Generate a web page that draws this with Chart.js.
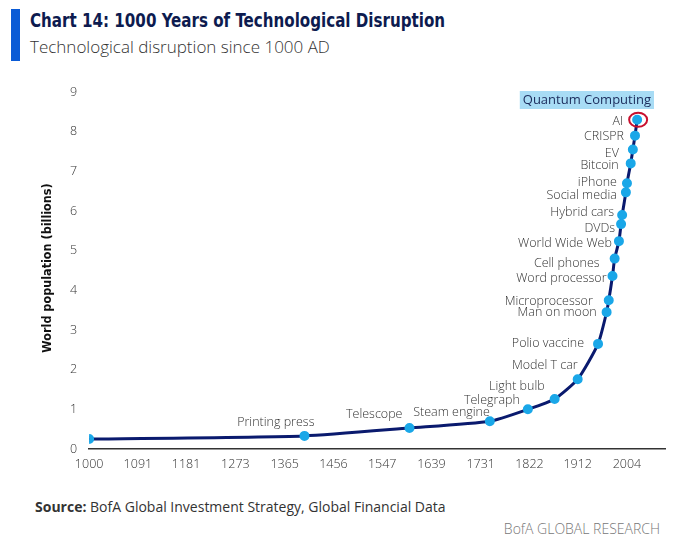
<!DOCTYPE html>
<html><head><meta charset="utf-8">
<script src="https://cdn.jsdelivr.net/npm/chart.js@4"></script>
<style>
body{margin:0;width:680px;height:547px;background:#fff;position:relative;overflow:hidden;font-family:"Open Sans",sans-serif;}
#bar{position:absolute;left:11px;top:9px;width:9px;height:52px;background:#0a5bd6;}
#t{position:absolute;left:30px;top:8px;font:bold 20px "Liberation Sans Narrow","DejaVu Sans Condensed",sans-serif;color:#0d1b4f;transform:scaleX(0.84);transform-origin:left top;white-space:nowrap;}
#st{position:absolute;left:30px;top:35px;font:300 17px "Open Sans",sans-serif;color:#333;}
#src{position:absolute;left:35px;top:497px;font:14px "Open Sans",sans-serif;color:#333;}
#brand{position:absolute;right:20px;top:519px;font:300 14px "Open Sans",sans-serif;color:#777;}
#c{position:absolute;left:0;top:0;}
</style></head><body>
<div id="bar"></div>
<div id="t">Chart 14: 1000 Years of Technological Disruption</div>
<div id="st">Technological disruption since 1000 AD</div>
<div id="src"><b>Source:</b> BofA Global Investment Strategy, Global Financial Data</div>
<div id="brand">BofA GLOBAL RESEARCH</div>
<canvas id="c" width="680" height="547"></canvas>
<script>
const years = [1000,1402,1598,1748,1819,1869,1912,1950,1966,1970,1977,1981,1989,1993,1995,2002,2004,2011,2015,2019,2023];
const population = [0.25,0.33,0.53,0.7,1.0,1.26,1.76,2.65,3.45,3.75,4.36,4.8,5.24,5.67,5.9,6.47,6.7,7.2,7.55,7.9,8.3];
const events = ["","Printing press","Telescope","Steam engine","Telegraph","Light bulb","Model T car","Polio vaccine","Man on moon","Microprocessor","Word processor","Cell phones","World Wide Web","DVDs","Hybrid cars","Social media","iPhone","Bitcoin","EV","CRISPR","AI"];
const xTicks = [1000,1091,1181,1273,1365,1456,1547,1639,1731,1822,1912,2004];
const labelOffsets = [[0,0],[10,-13],[-7,-14],[0,-9],[-8,-9],[-10,-13],[0,-14],[-14,0],[-10,0],[-16,1],[-6,2],[-15,5],[-7,2],[-6,4],[-8,-3],[-9,3],[-10,-1],[-12,2],[-14,4],[-11,1],[-14,2]];

const labelPlugin = {
  id:'labels',
  afterDatasetsDraw(chart){
    const ctx=chart.ctx, meta=chart.getDatasetMeta(0);
    ctx.save();
    ctx.font='300 12.5px "Open Sans"';
    ctx.fillStyle='#333';
    ctx.textBaseline='middle';ctx.textAlign='right';
    meta.data.forEach((p,i)=>{
      if(!events[i])return;
      ctx.fillText(events[i],p.x+labelOffsets[i][0],p.y+labelOffsets[i][1]);
    });
    const ai=meta.data[meta.data.length-1];
    ctx.strokeStyle='#c8102e';ctx.lineWidth=2;
    ctx.beginPath();ctx.ellipse(ai.x+1,ai.y,9,7,0,0,Math.PI*2);ctx.stroke();
    ctx.font='13px "Open Sans"';
    const txt='Quantum Computing';
    const w=ctx.measureText(txt).width;
    ctx.fillStyle='#a8dcf5';
    ctx.fillRect(651-w-3,91,w+6,18);
    ctx.fillStyle='#1a2a5a';ctx.textAlign='right';
    ctx.fillText(txt,651,100);
    ctx.translate(48,268);ctx.rotate(-Math.PI/2);
    ctx.font='bold 12.5px "Liberation Sans Narrow","DejaVu Sans Condensed"';
    ctx.fillStyle='#111';ctx.textAlign='center';
    ctx.fillText('World population (billions)',0,0);
    ctx.restore();
  }
};

new Chart(document.getElementById('c'),{
  type:'line',
  data:{datasets:[{data:years.map((y,i)=>({x:y,y:population[i]})),
    borderColor:'#0a1a6e',borderWidth:3,pointBackgroundColor:'#1aa7e8',pointBorderColor:'#1aa7e8',pointRadius:3.5,tension:0.2}]},
  options:{responsive:false,animation:false,
    layout:{padding:{left:58,right:15,top:92,bottom:67}},
    plugins:{legend:{display:false},tooltip:{enabled:false}},
    scales:{
      x:{type:'linear',min:1000,max:2075,
        afterBuildTicks(s){s.ticks=xTicks.map(v=>({value:v}));},
        grid:{display:false,drawTicks:false},border:{color:'#333',width:1.5},
        ticks:{color:'#333',font:{family:'Open Sans',size:12.5,weight:300},padding:8,maxRotation:0,autoSkip:false,callback:v=>String(v)}},
      y:{min:0,max:9,ticks:{stepSize:1,color:'#333',font:{family:'Open Sans',size:12.5,weight:300},padding:12},
        grid:{display:false,drawTicks:false},border:{display:false}}
    }},
  plugins:[labelPlugin]
});
</script></body></html>
